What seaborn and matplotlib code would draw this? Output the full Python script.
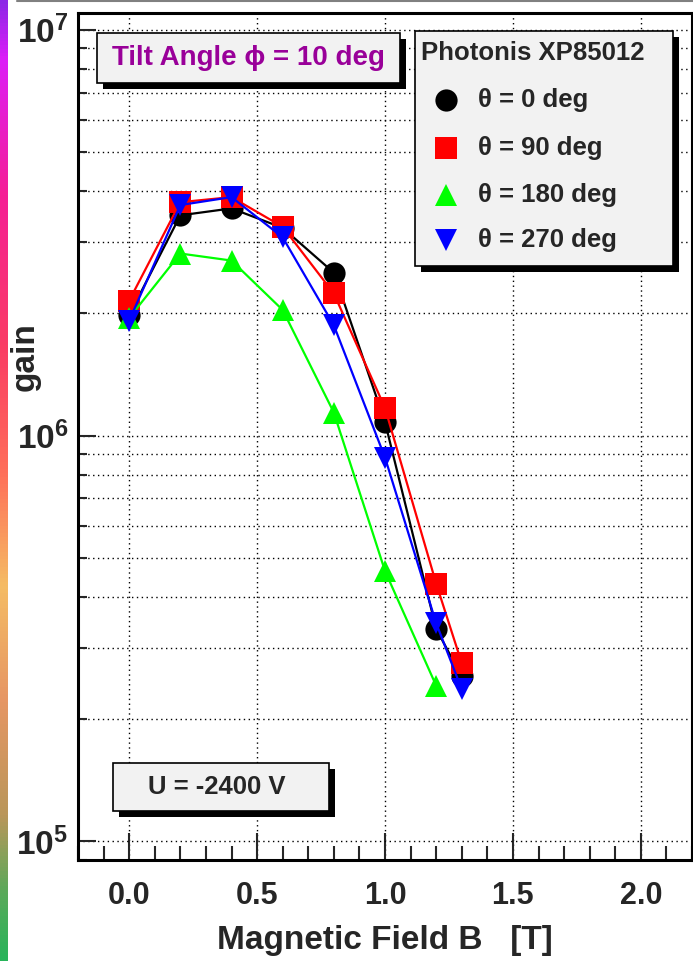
import numpy as np
import pandas as pd
import matplotlib
matplotlib.use("Agg")
import matplotlib.pyplot as plt
import matplotlib.ticker as mticker
from matplotlib.patches import Rectangle
from matplotlib.lines import Line2D
from matplotlib.colors import LinearSegmentedColormap
import seaborn as sns

# ---- measured gain vs. magnetic field (Photonis XP85012, tilt 10 deg) ----
field_T = [0.0, 0.2, 0.4, 0.6, 0.8, 1.0, 1.2, 1.3]
gain_theta0 = [1.98e6, 3.49e6, 3.63e6, 3.25e6, 2.52e6, 1.08e6, 3.34e5, 2.55e5]
gain_theta90 = [2.15e6, 3.76e6, 3.87e6, 3.27e6, 2.24e6, 1.17e6, 4.32e5, 2.75e5]
gain_theta180 = [1.95e6, 2.81e6, 2.70e6, 2.04e6, 1.14e6, 4.64e5, 2.42e5]
gain_theta270 = [1.92e6, 3.70e6, 3.87e6, 3.08e6, 1.87e6, 8.83e5, 3.45e5, 2.37e5]

series_labels = ["\u03b8 = 0 deg", "\u03b8 = 90 deg", "\u03b8 = 180 deg", "\u03b8 = 270 deg"]
series_gain = [gain_theta0, gain_theta90, gain_theta180, gain_theta270]
series_colors = ["#000000", "#ff0000", "#00ff00", "#0000ff"]
series_markers = ["o", "s", "^", "v"]

x_tick_values = [0.0, 0.5, 1.0, 1.5, 2.0]

legend_title = "Photonis XP85012"
tilt_text = "Tilt Angle \u03d5 = 10 deg"
voltage_text = "U = -2400 V"
x_label = "Magnetic Field B   [T]"
y_label = "gain"

# ---- build long-form table ----
frames = []
for lab, g in zip(series_labels, series_gain):
    frames.append(pd.DataFrame({"B": field_T[:len(g)], "gain": g, "theta": lab}))
df = pd.concat(frames, ignore_index=True)

sns.set_style("ticks")
plt.rcParams["font.family"] = ["Liberation Sans", "DejaVu Sans"]
plt.rcParams["font.weight"] = "bold"
plt.rcParams["mathtext.fontset"] = "custom"
plt.rcParams["mathtext.bf"] = "Liberation Sans:bold"
plt.rcParams["mathtext.rm"] = "Liberation Sans:bold"

W, H = 693, 961
fig = plt.figure(figsize=(W / 100, H / 100), dpi=100, facecolor="white")

ax_left, ax_right, ax_top, ax_bottom = 78, 692, 13, 860
ax = fig.add_axes([ax_left / W, 1 - ax_bottom / H,
                   (ax_right - ax_left) / W, (ax_bottom - ax_top) / H])

sns.lineplot(
    data=df, x="B", y="gain", hue="theta", style="theta",
    hue_order=series_labels, style_order=series_labels,
    palette=dict(zip(series_labels, series_colors)),
    markers=dict(zip(series_labels, series_markers)),
    dashes=False, estimator=None, errorbar=None, sort=False,
    markersize=16, markeredgewidth=0, linewidth=1.6,
    legend=False, ax=ax,
)

ax.set_yscale("log")
ax.set_xlim(-0.2, 2.2)
ax.set_ylim(9.0e4, 1.1e7)

ax.xaxis.set_major_locator(mticker.FixedLocator(x_tick_values))
ax.xaxis.set_minor_locator(mticker.MultipleLocator(0.1))
ax.xaxis.set_major_formatter(mticker.FormatStrFormatter("%.1f"))
ax.yaxis.set_major_locator(mticker.LogLocator(base=10, numticks=10))
ax.yaxis.set_minor_locator(mticker.LogLocator(base=10, subs=np.arange(2, 10), numticks=20))
ax.yaxis.set_major_formatter(mticker.FuncFormatter(
    lambda v, p: r"$\mathbf{10^{%d}}$" % int(round(np.log10(v)))))
ax.yaxis.set_minor_formatter(mticker.NullFormatter())

grid_kw = dict(color="black", linestyle=(0, (1, 2.5)), linewidth=1.0)
ax.yaxis.grid(True, which="both", **grid_kw)
ax.xaxis.grid(True, which="major", **grid_kw)

ax.tick_params(axis="x", which="major", direction="in", length=19.5, width=1.5,
               pad=15, labelsize=22)
ax.tick_params(axis="x", which="minor", direction="in", length=10, width=1.5)
ax.tick_params(axis="y", which="major", direction="in", length=13, width=1.5,
               pad=7, labelsize=24)
ax.tick_params(axis="y", which="minor", direction="in", length=6.5, width=1.5)
for lbl in ax.get_xticklabels():
    lbl.set_fontweight("bold")

for sp in ax.spines.values():
    sp.set_linewidth(2.2)
    sp.set_color("black")

ax.set_xlabel("")
ax.set_ylabel("")


def fx(x):
    return x / W


def fy(y):
    return 1 - y / H


def shadow_box(x0, y0, x1, y1, off=6):
    fig.add_artist(Rectangle((fx(x0 + off), fy(y1 + off)), (x1 - x0) / W, (y1 - y0) / H,
                             transform=fig.transFigure, facecolor="black",
                             edgecolor="none", zorder=5))
    fig.add_artist(Rectangle((fx(x0), fy(y1)), (x1 - x0) / W, (y1 - y0) / H,
                             transform=fig.transFigure, facecolor="#f2f2f2",
                             edgecolor="black", linewidth=1.2, zorder=6))


# axis titles
fig.text(fx(553), fy(940), x_label, ha="right", va="center", fontsize=24,
         fontweight="bold")
fig.text(fx(25), fy(357), y_label, ha="center", va="center", rotation=90,
         fontsize=24, fontweight="bold")

# tilt-angle label
shadow_box(97, 33, 400, 83)
fig.text(fx(248.5), fy(58), tilt_text, ha="center", va="center", fontsize=20,
         fontweight="bold", color="#990099", zorder=7)

# supply-voltage label
shadow_box(113, 763, 329, 811)
fig.text(fx(217), fy(787), voltage_text, ha="center", va="center", fontsize=18.5,
         fontweight="bold", zorder=7)

# legend
shadow_box(415, 31, 673, 266)
fig.text(fx(421), fy(53), legend_title, ha="left", va="center", fontsize=18.5,
         fontweight="bold", zorder=7)
entry_y = [100, 148, 195, 240]
for lab, col, mk, yy in zip(series_labels, series_colors, series_markers, entry_y):
    fig.add_artist(Line2D([fx(446)], [fy(yy)], transform=fig.transFigure,
                          marker=mk, markersize=16, markeredgewidth=0,
                          color=col, linestyle="none", zorder=7))
    fig.text(fx(478), fy(yy), lab, ha="left", va="center", fontsize=18.5,
             fontweight="bold", zorder=7)

# decorative frame elements: thin rule at top and colour band on the left
fig.add_artist(Line2D([fx(17), 1.0], [fy(0.5), fy(0.5)], transform=fig.transFigure,
                      color="#808080", linewidth=1.5, zorder=4))
band_colors = [(0.00, "#8c28e6"), (0.06, "#dc1ef8"), (0.20, "#f51e96"),
               (0.36, "#fa3c64"), (0.49, "#ff6e5a"), (0.61, "#f5bc64"),
               (0.73, "#e69664"), (0.85, "#b9965a"), (0.93, "#5aaa5a"),
               (1.00, "#28b45a")]
cmap = LinearSegmentedColormap.from_list("band", band_colors)
band_ax = fig.add_axes([0, 0, 7 / W, 1])
band_ax.imshow(np.linspace(0, 1, 256).reshape(-1, 1), aspect="auto", cmap=cmap)
band_ax.set_axis_off()

fig.savefig("out.png", dpi=100, facecolor="white")
